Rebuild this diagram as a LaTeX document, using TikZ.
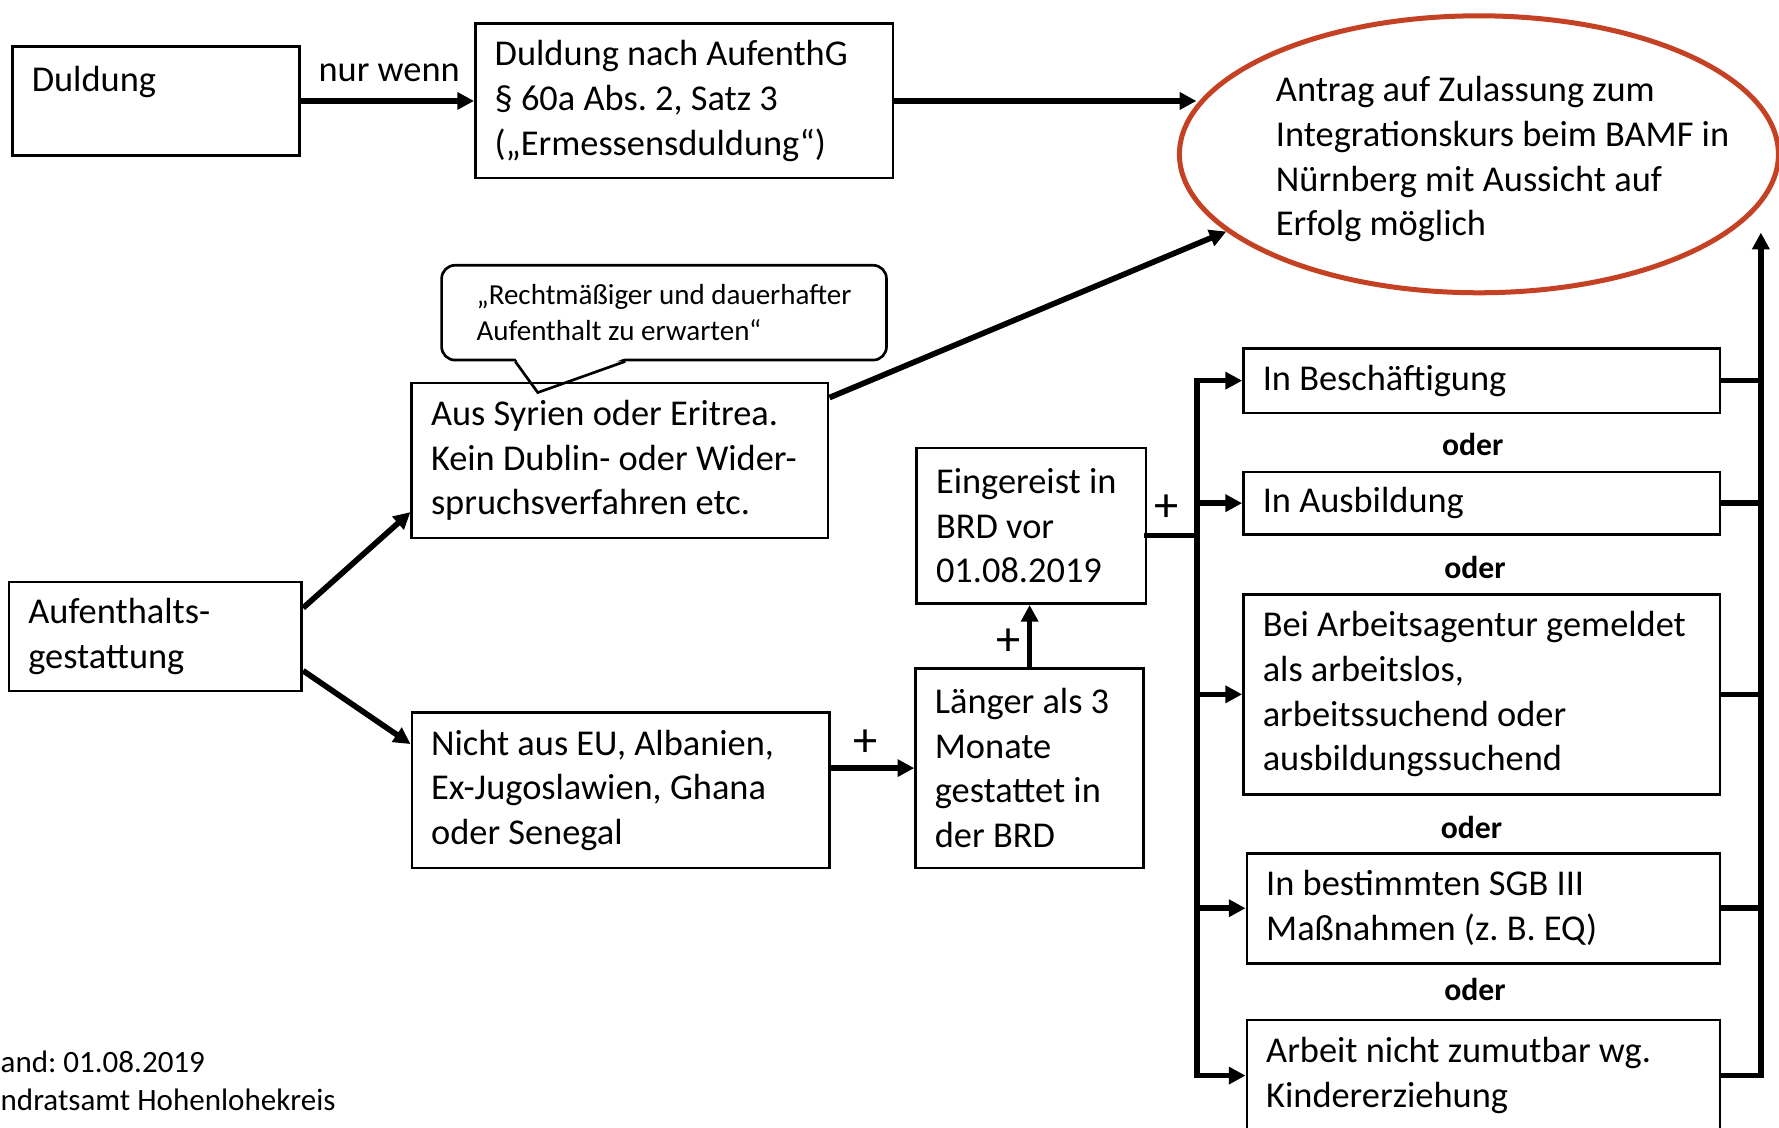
\documentclass[tikz,border=0pt]{standalone}
\usepackage{fontspec}
\setmainfont{Carlito}
\usetikzlibrary{arrows.meta,shapes.geometric,calc}
\definecolor{zielrot}{RGB}{197,65,35}
\frenchspacing
\newcommand{\boxfont}{\fontsize{10.9}{13.4}\selectfont}
\newcommand{\hintfont}{\fontsize{8.7}{10.6}\selectfont}
\newcommand{\oderfont}{\fontsize{9.5}{11}\selectfont\bfseries}
\newcommand{\plusfont}{\fontsize{14.5}{16}\selectfont}
\newcommand{\footfont}{\fontsize{9.3}{11.2}\selectfont}
\begin{document}
\begin{tikzpicture}[x=0.34pt,y=-0.34pt,
        box/.style 2 args={draw,line width=0.8pt,align=flush left,font=\boxfont,inner xsep=5.78pt,inner ysep=2pt,text width=#1,minimum height=#2},
        hint/.style={draw,line width=0.8pt,rounded corners=4pt,fill=white,align=left,font=\hintfont,minimum width=133.3pt,minimum height=28.4pt},
        zielform/.style={draw=zielrot,line width=1.5pt,ellipse,inner sep=0pt,minimum width=179.5pt,minimum height=83pt},
        oder/.style={font=\oderfont,inner sep=0pt},
        plus/.style={font=\plusfont,inner sep=0pt},
        lbl/.style={font=\boxfont,inner sep=0pt},
        foot/.style={font=\footfont,inner sep=0pt,anchor=west},
        bar/.style={line width=1.7pt,line cap=rect},
        link/.style={line width=1.7pt,-{Triangle[length=5pt,width=5pt]}}]
        \useasboundingbox (0,0) rectangle (1568,994);
        \clip (0,0) rectangle (1568,994);

        \node[box={74.46pt}{32.64pt}] (dul) at (137.5,89) {Duldung\\~};
        \node[box={113.56pt}{46.24pt}] (ermdul) at (603,89) {Duldung nach AufenthG\\§ 60a Abs. 2, Satz 3\\(„Ermessensduldung“)};
        \node[lbl] (nurwenn) at (343,64) {nur wenn};

        \node[zielform] (ziel) at (1303.5,136) {};
        \node[lbl,anchor=west,align=left] (zieltext) at (1124,140.3) {Antrag auf Zulassung zum\\Integrationskurs beim BAMF in\\Nürnberg mit Aussicht auf\\Erfolg möglich};

        \node[hint] (hinweis) at (585.3,275.6) {„Rechtmäßiger und dauerhafter\\Aufenthalt zu erwarten“};
        \coordinate (spitze) at (474,346);
        \fill[white] ($(hinweis.south west)+(66,-3)$) -- (spitze) -- ($(hinweis.south west)+(163,-3)$) -- cycle;
        \draw[line width=0.8pt] ($(hinweis.south west)+(66,0)$) -- (spitze) -- ($(hinweis.south west)+(163,0)$);

        \node[box={113.22pt}{46.44pt}] (syr) at (546.4,405.9) {Aus Syrien oder Eritrea.\\Kein Dublin- oder Wider-\\spruchsverfahren etc.};
        \node[box={76.16pt}{32.64pt}] (gest) at (137,561) {Aufenthalts-\\gestattung};
        \node[box={113.56pt}{46.58pt}] (herk) at (547,696.5) {Nicht aus EU, Albanien,\\Ex-Jugoslawien, Ghana\\oder Senegal};
        \node[box={56.78pt}{59.84pt}] (dauer) at (907.5,677) {Länger als 3\\Monate\\gestattet in\\der BRD};
        \node[box={57.12pt}{46.58pt}] (einr) at (909,463.5) {Eingereist in\\BRD vor\\01.08.2019};

        \node[plus] (plus1) at (763,655) {+};
        \node[plus] (plus2) at (889,566) {+};
        \node[plus] (plus3) at (1028,448) {+};

        \node[box={131.24pt}{19.38pt}] (besch) at (1306,335.5) {In Beschäftigung};
        \node[box={131.24pt}{18.7pt}] (ausb) at (1306,443.5) {In Ausbildung};
        \node[box={131.24pt}{59.84pt}] (agentur) at (1306,612) {Bei Arbeitsagentur gemeldet\\als arbeitslos,\\arbeitssuchend oder\\ausbildungssuchend};
        \node[box={130.22pt}{32.98pt}] (sgb) at (1307.5,800.5) {In bestimmten SGB III\\Maßnahmen (z. B. EQ)};
        \node[box={130.22pt}{33.32pt}] (kind) at (1307.5,948) {Arbeit nicht zumutbar wg.\\Kindererziehung};

        \node[oder] (oder1) at (1298,392) {oder};
        \node[oder] (oder2) at (1300,500) {oder};
        \node[oder] (oder3) at (1297,729) {oder};
        \node[oder] (oder4) at (1300,872) {oder};

        \node[foot] (stand) at (0,936) {and: 01.08.2019};
        \node[foot] (amt) at (0,969) {ndratsamt Hohenlohekreis};

        \draw[link] (dul.east) -- (ermdul.west);
        \draw[link] (ermdul.east) -- (ermdul.east -| ziel.170);
        \draw[link] ($(syr.north east)+(0,14)$) -- (ziel.197);
        \draw[link] ($(gest.north east)+(0,24)$) -- ($(syr.south west)+(0,-24)$);
        \draw[link] ($(gest.south east)+(0,-19)$) -- ($(herk.north west)+(0,29)$);
        \draw[link] (herk.east |- dauer.west) -- (dauer.west);
        \draw[link] (dauer.north) -- (dauer.north |- einr.south);

        \coordinate (links) at (1055,472);
        \draw[bar] ($(einr.east)+(0,8.5)$) -- (links);
        \draw[bar] (links |- besch.west) -- (links |- kind.west);
        \draw[link] (links |- besch.west) -- (besch.west);
        \draw[link] (links |- ausb.west) -- (ausb.west);
        \draw[link] (links |- agentur.west) -- (agentur.west);
        \draw[link] (links |- sgb.west) -- (sgb.west);
        \draw[link] (links |- kind.west) -- (kind.west);

        \coordinate (rechts) at (1552,205);
        \draw[bar] (besch.east) -- (besch.east -| rechts);
        \draw[bar] (ausb.east) -- (ausb.east -| rechts);
        \draw[bar] (agentur.east) -- (agentur.east -| rechts);
        \draw[bar] (sgb.east) -- (sgb.east -| rechts);
        \draw[link] (kind.east) -| (rechts);
\end{tikzpicture}
\end{document}
